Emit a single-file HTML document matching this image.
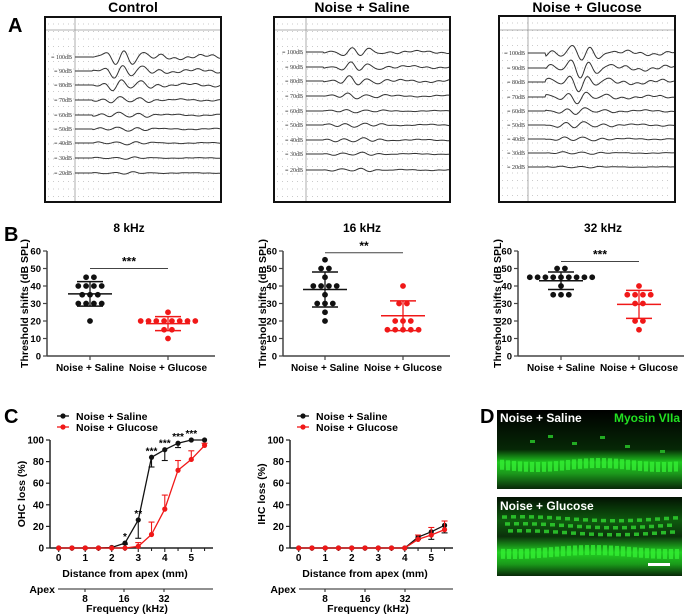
<!DOCTYPE html>
<html><head><meta charset="utf-8">
<style>
html,body{margin:0;padding:0;background:#fff;}
svg{display:block;font-family:"Liberation Sans",Arial,sans-serif;}
.b{font-weight:bold;}
</style></head>
<body>
<svg id="fig" width="685" height="614" viewBox="0 0 685 614" xmlns="http://www.w3.org/2000/svg">
<defs>
<linearGradient id="g1" x1="0" y1="0" x2="0" y2="1">
<stop offset="0" stop-color="#000"/><stop offset="0.5" stop-color="#062806"/><stop offset="0.66" stop-color="#1fc71f"/><stop offset="0.8" stop-color="#1c9a1c"/><stop offset="1" stop-color="#082808"/></linearGradient>
<linearGradient id="g2" x1="0" y1="0" x2="0" y2="1">
<stop offset="0" stop-color="#031203"/><stop offset="0.3" stop-color="#0e5a0e"/><stop offset="0.5" stop-color="#0b300b"/><stop offset="0.7" stop-color="#22d022"/><stop offset="0.85" stop-color="#1a9a1a"/><stop offset="1" stop-color="#082808"/></linearGradient>
</defs>
<g id="panelA"></g>
<g id="panelB"></g>
<g id="panelC"></g>
<g id="panelD">
  <text x="480" y="423" font-size="20" class="b">D</text>
  <rect x="497" y="410" width="185" height="79" fill="url(#g1)"/>
  <rect x="497" y="497" width="185" height="79" fill="url(#g2)"/>
  <g id="cells"></g>
  <text x="500" y="422" font-size="12" class="b" fill="#fff">Noise + Saline</text>
  <text x="680" y="422" font-size="12" class="b" fill="#22e022" text-anchor="end">Myosin VIIa</text>
  <text x="500" y="510" font-size="12" class="b" fill="#fff">Noise + Glucose</text>
  <rect x="648" y="563" width="22" height="3" fill="#fff"/>
</g>
</svg>
<script>
// ---------- Panel B data ----------
const bTitles = ["8 kHz","16 kHz","32 kHz"];
const bGroups = ["Noise + Saline","Noise + Glucose"];
const b8Saline = [45,45,40,40,40,40,35,35,35,30,30,30,30,20];
const b8Glucose = [25,20,20,20,20,20,20,20,20,15,15,10];
const b16Saline = [55,50,50,45,40,40,40,40,35,30,30,30,25,20];
const b16Glucose = [40,30,30,20,20,20,15,15,15,15,15];
const b32Saline = [50,50,45,45,45,45,45,45,45,45,45,40,35,35,35];
const b32Glucose = [40,35,35,35,35,30,30,20,20,15];
const bMeans = [[35.5,18.5],[38,23],[43,29.5]];
const bSDs = [[7,4],[10,8.5],[5,8]];
const bSig = ["***","**","***"];
const bSigY = [50,59,54];
const bYTicks = [0,10,20,30,40,50,60];
// ---------- Panel C data ----------
const cDist = [0,0.5,1,1.5,2,2.5,3,3.5,4,4.5,5,5.5];
const ohcSaline = [0,0,0,0,0.5,4.5,26,84,91,97,100,100];
const ohcSalineErr = [0,0,0,0,0.5,1,17,9,10,4,0,0];
const ohcGlucose = [0,0,0,0,0,0,1.5,12.5,36,72,82,95];
const ohcGlucoseErr = [0,0,0,0,0,0,3.5,11.5,13,9,8,2];
const ohcStars = ["","","","","","*","**","***","***","***","***",""];
const ihcSaline = [0,0,0,0,0,0,0,0,0,10,15,21];
const ihcSalineErr = [0,0,0,0,0,0,0,0,0,2,7,7];
const ihcGlucose = [0,0,0,0,0,0,0,0,0,8,12,17];
const ihcGlucoseErr = [0,0,0,0,0,0,0,0,0,4,7,8];
const cYTicks = [0,20,40,60,80,100];
const cXTicks = [0,1,2,3,4,5];
const freqTicks = ["8","16","32"];

const NS="http://www.w3.org/2000/svg";
function mk(tag, attrs, parent, txt){
  const e=document.createElementNS(NS,tag);
  for(const k in attrs) e.setAttribute(k,attrs[k]);
  if(txt!==undefined) e.textContent=txt;
  parent.appendChild(e); return e;
}

// ---------- Panel A ----------
const A=document.getElementById('panelA');
const lbA=mk('text',{x:8,y:32,'font-size':20,'class':'b'},A,'A');


const boxes=[
 {t:"Control",x:45,y:17,w:176,h:185,vx:75,ys:[57,71,85,100,115,129,143,158,173],amp:[7,6,5,3,2.5,2,1.5,1,1],seed:1},
 {t:"Noise + Saline",x:274,y:17,w:176,h:185,vx:306,ys:[52,67,81,96,111,125,140,154,170],amp:[4,4,4,2.5,1.5,2,2,1.5,1.5],seed:2},
 {t:"Noise + Glucose",x:499,y:16,w:176,h:186,vx:528,ys:[53,68,82,97,111,125,139,153,167],amp:[7,8,7,5,3,3,2,1.2,0.8],seed:3}
];
const dbs=["100dB","90dB","80dB","70dB","60dB","50dB","40dB","30dB","20dB"];
boxes.forEach((bx,bi)=>{
  const g=mk('g',{},A);
  
  
  const tt=mk('text',{x:bx.x+bx.w/2,y:12,'font-size':14,'class':'b','text-anchor':'middle'},g,bx.t);
  
  
  mk('rect',{x:bx.x,y:bx.y,width:bx.w,height:bx.h,fill:'#fff',stroke:'#111','stroke-width':2},g);
  for(let yy=bx.y+7;yy<bx.y+bx.h;yy+=7.5){
    mk('line',{x1:bx.x+3,x2:bx.x+bx.w-3,y1:yy,y2:yy,stroke:'#bbb','stroke-width':0.8,'stroke-dasharray':'1 4'},g);
  }
  mk('line',{x1:bx.x+1,x2:bx.x+bx.w-1,y1:30,y2:30,stroke:'#999','stroke-width':0.8},g);
  mk('line',{x1:bx.vx,x2:bx.vx,y1:bx.y+1,y2:bx.y+bx.h-1,stroke:'#999','stroke-width':0.8},g);
  bx.ys.forEach((y,i)=>{
    const l=mk('text',{x:bx.vx-3,y:y+2,'font-size':6,'text-anchor':'end',fill:'#333','font-family':'Liberation Serif, serif'},g,'≡ '+dbs[i]);
    
    
    let d='';
    const x0=bx.vx, x1=bx.x+bx.w-1;
    for(let x=x0;x<=x1;x+=1){
      const t=(x-x0)/(x1-x0);
      let v=0;
      if(t>0.12){
        const env=Math.exp(-Math.pow((t-0.35)/0.18,2));
        v=bx.amp[i]*env*Math.sin(t*48+bx.seed+i*0.4) + 0.25*bx.amp[i]*Math.sin(t*17+bx.seed*2+i) + 0.15*bx.amp[i]*Math.sin(t*71+i);
      }
      d+=(x===x0?'M':'L')+x.toFixed(1)+','+(y+v).toFixed(1);
    }
    const p=mk('path',{d:d,fill:'none',stroke:'#333','stroke-width':1},g);
    
    
  });
});

// ---------- Panel B ----------
const B=document.getElementById('panelB');
const lbB=mk('text',{x:4,y:241,'font-size':20,'class':'b'},B,'B');


const bData=[[b8Saline,b8Glucose],[b16Saline,b16Glucose],[b32Saline,b32Glucose]];
const bAxes=[{ax:47,c:[90,168],end:215,yl:28,tx:129},{ax:283,c:[325,403],end:450,yl:266,tx:362},{ax:518,c:[561,639],end:684,yl:501,tx:603}];
const bY0=356,bY1=251;
function yB(v){return bY0-(v/60)*(bY0-bY1);}
bData.forEach((grp,pi)=>{
  const a=bAxes[pi];
  const g=mk('g',{},B);
  
  
  const t=mk('text',{x:a.tx,y:232,'font-size':12,'class':'b','text-anchor':'middle'},g,bTitles[pi]);
  
  
  mk('line',{x1:a.ax,x2:a.ax,y1:bY1,y2:bY0,stroke:'#444','stroke-width':1.5},g);
  mk('line',{x1:a.ax,x2:a.end,y1:bY0,y2:bY0,stroke:'#444','stroke-width':1.5},g);
  bYTicks.forEach(v=>{
    mk('line',{x1:a.ax-4,x2:a.ax,y1:yB(v),y2:yB(v),stroke:'#444','stroke-width':1.2},g);
    const tl=mk('text',{x:a.ax-6,y:yB(v)+3.5,'font-size':9.5,'class':'b','text-anchor':'end'},g,v);
    
    
  });
  const yl=mk('text',{x:a.yl,y:(bY0+bY1)/2,'font-size':10.5,'class':'b','text-anchor':'middle',transform:`rotate(-90 ${a.yl} ${(bY0+bY1)/2})`},g,'Threshold shifts (dB SPL)');
  
  
  grp.forEach((vals,gi)=>{
    const cx=a.c[gi], col=gi?'#f01818':'#111';
    mk('line',{x1:cx,x2:cx,y1:bY0,y2:bY0+4,stroke:'#444','stroke-width':1.2},g);
    const xl=mk('text',{x:cx,y:371,'font-size':10,'class':'b','text-anchor':'middle'},g,bGroups[gi]);
    
    
    const counts={};vals.forEach(v=>counts[v]=(counts[v]||0)+1);
    const seen={};
    vals.forEach(v=>{
      const n=counts[v]; const k=seen[v]=(seen[v]||0); seen[v]++;
      const x=cx+(k-(n-1)/2)*7.8;
      const c=mk('circle',{cx:x,cy:yB(v),r:2.9,fill:col},g);
      
      
    });
    const m=bMeans[pi][gi], s=bSDs[pi][gi];
    mk('line',{x1:cx-22,x2:cx+22,y1:yB(m),y2:yB(m),stroke:col,'stroke-width':1.6},g);
    mk('line',{x1:cx,x2:cx,y1:yB(m+s),y2:yB(m-s),stroke:col,'stroke-width':1.3},g);
    mk('line',{x1:cx-13,x2:cx+13,y1:yB(m+s),y2:yB(m+s),stroke:col,'stroke-width':1.6},g);
    mk('line',{x1:cx-13,x2:cx+13,y1:yB(m-s),y2:yB(m-s),stroke:col,'stroke-width':1.6},g);
  });
  const sy=yB(bSigY[pi]);
  const sl=mk('line',{x1:a.c[0],x2:a.c[1],y1:sy,y2:sy,stroke:'#444','stroke-width':1},g);
  
  
  const st=mk('text',{x:(a.c[0]+a.c[1])/2,y:sy-3,'font-size':12,'class':'b','text-anchor':'middle'},g,bSig[pi]);
  
  
});

// ---------- Panel C ----------
const C=document.getElementById('panelC');
const lbC=mk('text',{x:4,y:423,'font-size':20,'class':'b'},C,'C');


const cY0=548,cY1=440;
function yC(v){return cY0-(v/100)*(cY0-cY1);}
const cPanels=[
 {ax:50,x0:58.7,end:213,yl:'OHC loss (%)',ylx:25,s:ohcSaline,se:ohcSalineErr,gl:ohcGlucose,ge:ohcGlucoseErr,stars:ohcStars,lx:63,apexX:55,ft:[85,124,164],name:'ohc-chart'},
 {ax:290,x0:298.7,end:453,yl:'IHC loss (%)',ylx:265,s:ihcSaline,se:ihcSalineErr,gl:ihcGlucose,ge:ihcGlucoseErr,stars:null,lx:303,apexX:296,ft:[325,365,405],name:'ihc-chart'}
];
cPanels.forEach(p=>{
  const g=mk('g',{},C);
  
  
  const xC=d=>p.x0+d*26.52;
  mk('line',{x1:p.ax,x2:p.ax,y1:cY1,y2:cY0,stroke:'#222','stroke-width':1.5},g);
  mk('line',{x1:p.ax,x2:p.end,y1:cY0,y2:cY0,stroke:'#222','stroke-width':1.5},g);
  cYTicks.forEach(v=>{
    mk('line',{x1:p.ax-4,x2:p.ax,y1:yC(v),y2:yC(v),stroke:'#222','stroke-width':1.2},g);
    const tl=mk('text',{x:p.ax-6,y:yC(v)+3.5,'font-size':10,'class':'b','text-anchor':'end'},g,v);
    
    
  });
  cDist.forEach(d=>mk('line',{x1:xC(d),x2:xC(d),y1:cY0,y2:cY0+(d%1===0?4:3),stroke:'#222','stroke-width':1.1},g));
  cXTicks.forEach(d=>{
    const tl=mk('text',{x:xC(d),y:561,'font-size':10,'class':'b','text-anchor':'middle'},g,d);
    
    
  });
  const xt=mk('text',{x:xC(2.5),y:577,'font-size':10.5,'class':'b','text-anchor':'middle'},g,'Distance from apex (mm)');
  
  
  const yl=mk('text',{x:p.ylx,y:494,'font-size':10.5,'class':'b','text-anchor':'middle',transform:`rotate(-90 ${p.ylx} 494)`},g,p.yl);
  
  
  const ap=mk('text',{x:p.apexX,y:593,'font-size':10.5,'class':'b','text-anchor':'end'},g,'Apex');
  
  
  mk('line',{x1:p.apexX+3,x2:p.end,y1:589,y2:589,stroke:'#222','stroke-width':1.1},g);
  freqTicks.forEach((f,i)=>{
    mk('line',{x1:p.ft[i],x2:p.ft[i],y1:589,y2:592,stroke:'#222','stroke-width':1},g);
    const tl=mk('text',{x:p.ft[i],y:602,'font-size':10,'class':'b','text-anchor':'middle'},g,f);
    
    
  });
  const ft=mk('text',{x:p.ft[1]+3,y:612,'font-size':10.5,'class':'b','text-anchor':'middle'},g,'Frequency (kHz)');
  
  
  [[p.s,p.se,'#111',-1],[p.gl,p.ge,'#f01818',1]].forEach(([vals,errs,col,dir],si)=>{
    const sg=mk('g',{},g);
    
    
    vals.forEach((v,i)=>{
      if(errs[i]>0){
        const ye=yC(v+dir*errs[i]);
        mk('line',{x1:xC(cDist[i]),x2:xC(cDist[i]),y1:yC(v),y2:ye,stroke:col,'stroke-width':1.1},sg);
        mk('line',{x1:xC(cDist[i])-3,x2:xC(cDist[i])+3,y1:ye,y2:ye,stroke:col,'stroke-width':1.1},sg);
      }
    });
    const pts=vals.map((v,i)=>xC(cDist[i]).toFixed(1)+','+yC(v).toFixed(1)).join(' ');
    const pl=mk('polyline',{points:pts,fill:'none',stroke:col,'stroke-width':1.3},sg);
    
    
    vals.forEach((v,i)=>{
      const c=mk('circle',{cx:xC(cDist[i]),cy:yC(v),r:2.6,fill:col},sg);
      
      
    });
  });
  if(p.stars){
    p.stars.forEach((s,i)=>{
      if(!s) return;
      const st=mk('text',{x:xC(cDist[i]),y:yC(p.s[i])-3,'font-size':10,'class':'b','text-anchor':'middle'},g,s);
      
      
    });
  }
  [['Noise + Saline','#111',416],['Noise + Glucose','#f01818',427]].forEach(([t,col,y],li)=>{
    const lg=mk('g',{},g);
    
    
    mk('line',{x1:p.lx-6,x2:p.lx+6,y1:y,y2:y,stroke:col,'stroke-width':1.3},lg);
    mk('circle',{cx:p.lx,cy:y,r:2.6,fill:col},lg);
    mk('text',{x:p.lx+13,y:y+4,'font-size':10.5,'class':'b'},lg,t);
  });
});

// ---------- Panel D decorative hair cells ----------
const cells=document.getElementById('cells');
for(let x=500;x<680;x+=6){
  mk('rect',{x:x,y:460+Math.sin(x/20)*2,width:4,height:10,fill:'#33ee33',opacity:0.8},cells);
  mk('rect',{x:x+1,y:547+Math.sin(x/25)*2,width:4,height:10,fill:'#33ee33',opacity:0.8},cells);
}
for(let r=0;r<3;r++){
  for(let x=502+r*3;x<676;x+=9){
    mk('rect',{x:x,y:517+r*7+Math.sin(x/30)*2,width:5,height:3.5,fill:'#2fd02f',opacity:0.85},cells);
  }
}
[[530,440],[548,435],[572,442],[600,436],[625,445],[660,450]].forEach(([x,y])=>mk('rect',{x:x,y:y,width:5,height:3,fill:'#22aa22'},cells));
</script>
</body></html>
